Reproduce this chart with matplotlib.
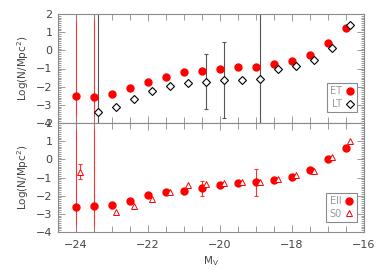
import numpy as np
import matplotlib
matplotlib.use("Agg")
import matplotlib.pyplot as plt
from matplotlib.ticker import MultipleLocator

nan = np.nan
mv = np.array([-24, -23.5, -23, -22.5, -22, -21.5, -21, -20.5, -20, -19.5, -19, -18.5, -18, -17.5, -17, -16.5])

et = np.array([-2.50, -2.55, -2.40, -2.10, -1.73, -1.45, -1.21, -1.15, -1.03, -0.93, -0.90, -0.75, -0.59, -0.26, 0.40, 1.21])
et_err = np.array([10, 10, 0, 0, 0, 0, 0, 0, 0, 0, 0, 0, 0, 0, 0, 0])

lt = np.array([nan, -3.38, -3.10, -2.68, -2.24, -1.96, -1.81, -1.72, -1.63, -1.65, -1.58, -1.05, -0.86, -0.51, 0.11, 1.39])
lt_err = np.array([0, 10, 0, 0, 0, 0, 0, 1.52, 2.11, 0, 10, 0, 0, 0, 0, 0])

ell = np.array([-2.62, -2.57, -2.53, -2.29, -1.96, -1.80, -1.72, -1.60, -1.43, -1.29, -1.27, -1.14, -0.95, -0.60, 0.00, 0.64])
ell_err = np.array([10, 10, 0, 0, 0, 0, 0, 0.42, 0, 0, 0.74, 0, 0, 0, 0, 0])

s0 = np.array([-0.68, nan, -2.91, -2.55, -2.17, -1.78, -1.43, -1.37, -1.32, -1.27, -1.23, -1.06, -0.88, -0.62, 0.11, 1.00])
s0_err = np.array([0.42, 0, 0, 0, 0, 0, 0, 0, 0, 0, 0, 0, 0, 0, 0, 0])

offset = 0.12
axcol = "#8a8a8a"
txtcol = "#444444"

fig = plt.figure(figsize=(3.84, 2.74), dpi=100)
L, W = 57.5 / 384, (364 - 57.5) / 384
ax1 = fig.add_axes([L, 1 - 123 / 274, W, 109 / 274])
ax2 = fig.add_axes([L, 1 - 232 / 274, W, 109 / 274])


def style(ax):
    ax.set_xlim(-24.5, -16)
    ax.set_ylim(-4, 2)
    ax.xaxis.set_major_locator(MultipleLocator(2))
    ax.xaxis.set_minor_locator(MultipleLocator(0.5))
    ax.yaxis.set_major_locator(MultipleLocator(1))
    ax.yaxis.set_minor_locator(MultipleLocator(0.1))
    ax.tick_params(which="both", direction="in", top=True, right=True, colors=axcol,
                   labelcolor=txtcol, labelsize=8, width=0.6)
    ax.tick_params(which="major", length=5)
    ax.tick_params(which="minor", length=2.5)
    ax.tick_params(axis="x", which="minor", length=4)
    ax.tick_params(axis="x", which="major", pad=6)
    for s in ax.spines.values():
        s.set_color(axcol)
        s.set_linewidth(0.8)
    ax.set_ylabel("Log(N/Mpc$^2$)", fontsize=7.5, color=txtcol, labelpad=4)


def draw_err(ax, x, y, err, color):
    m = err > 0
    ax.errorbar(x[m], y[m], yerr=err[m], fmt="none", ecolor=color, elinewidth=0.8,
                capsize=1.5, capthick=0.8, zorder=1)


style(ax1)
style(ax2)
ax1.tick_params(labelbottom=False)

draw_err(ax1, mv, et, et_err, "#ff3030")
draw_err(ax1, mv + offset, lt, lt_err, "#555555")
ax1.plot(mv, et, "o", color="red", ms=5, mec="red", label="ET", zorder=3)
ax1.plot(mv + offset, lt, "D", color="black", mfc="white", ms=3.6, mew=0.8, label="LT", zorder=3)

draw_err(ax2, mv, ell, ell_err, "#ff3030")
draw_err(ax2, mv + offset, s0, s0_err, "#ff3030")
ax2.plot(mv, ell, "o", color="red", ms=5, mec="red", label="Ell", zorder=3)
ax2.plot(mv + offset, s0, "^", color="red", mfc="white", ms=5, mew=0.7, label="S0", zorder=3)

for ax, anchor in ((ax1, (0.978, 0.098)), (ax2, (0.976, 0.09))):
    leg = ax.legend(loc="lower right", bbox_to_anchor=anchor, borderaxespad=0, markerfirst=False,
                    fontsize=7, handlelength=0.8, handletextpad=0.4, borderpad=0.35,
                    labelspacing=0.25, fancybox=False, framealpha=1, edgecolor=axcol)
    leg.get_frame().set_linewidth(0.8)
    for t in leg.get_texts():
        t.set_color("#999999")

ax2.set_xlabel("M$_\\mathrm{V}$", fontsize=7.5, color=txtcol, labelpad=3)

fig.savefig("out.png", dpi=100)
